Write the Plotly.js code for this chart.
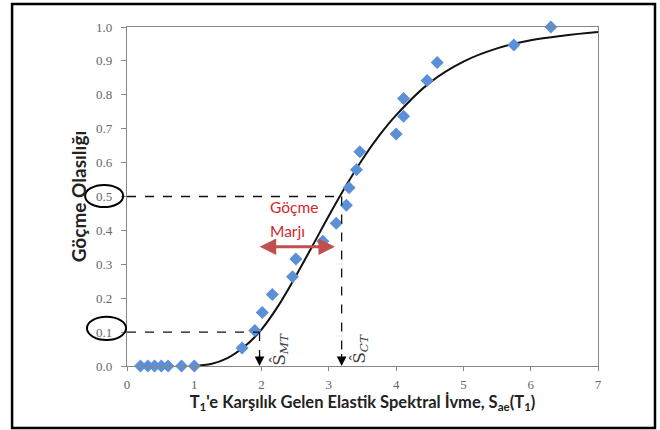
<!DOCTYPE html>
<html>
<head>
<meta charset="utf-8">
<script src="https://cdn.plot.ly/plotly-3.0.1.min.js"></script>
<style>html,body{margin:0;padding:0;background:#fff;}#chart{width:660px;height:430px;}</style>
</head>
<body>
<div id="chart"></div>
<script>
// Observed collapse fractions (diamonds)
const pointX = [0.20, 0.31, 0.41, 0.51, 0.61, 0.81, 1.00, 1.71, 1.90, 2.01, 2.16, 2.46, 2.51, 2.91, 3.11, 3.26, 3.30, 3.41, 3.46, 4.00, 4.11, 4.11, 4.46, 4.61, 5.75, 6.30];
const pointY = [0, 0, 0, 0, 0, 0, 0, 0.053, 0.105, 0.158, 0.211, 0.263, 0.316, 0.368, 0.421, 0.474, 0.526, 0.579, 0.632, 0.684, 0.737, 0.789, 0.842, 0.895, 0.947, 1.0];
// Fitted fragility curve
const curveX = [1.0, 1.25, 1.5, 1.75, 2.0, 2.25, 2.5, 2.75, 3.0, 3.25, 3.5, 3.75, 4.0, 4.5, 5.0, 5.5, 6.0, 6.5, 7.0];
const curveY = [0.001, 0.006, 0.024, 0.058, 0.108, 0.178, 0.262, 0.352, 0.443, 0.530, 0.610, 0.680, 0.740, 0.836, 0.898, 0.937, 0.961, 0.975, 0.985];
// Reference values
const sMT = 1.97, pMT = 0.1;
const sCT = 3.19, pCT = 0.5;
const marginFrom = 1.95, marginTo = 3.09, marginLevel = 0.352;
const xTicks = [0, 1, 2, 3, 4, 5, 6, 7];
const yTicks = [0, 0.1, 0.2, 0.3, 0.4, 0.5, 0.6, 0.7, 0.8, 0.9, 1.0];

const traces = [
  {x: curveX, y: curveY, type: 'scatter', mode: 'lines',
   line: {color: '#111111', width: 2, shape: 'spline', smoothing: 1.0}, hoverinfo: 'skip'},
  {x: pointX, y: pointY, type: 'scatter', mode: 'markers', cliponaxis: false,
   marker: {symbol: 'diamond', size: 10, color: '#5B8FD8', line: {width: 0}}}
];

const dash = {color: '#111111', width: 1.3, dash: 'dash'};
const tickFont = {size: 13, color: '#666666', family: '"Liberation Serif", serif'};
const layout = {
  width: 660, height: 430,
  margin: {l: 127, r: 62, t: 27, b: 64},
  paper_bgcolor: '#ffffff', plot_bgcolor: '#ffffff',
  showlegend: false,
  font: {family: 'Lato, "Open Sans", sans-serif', color: '#595959', size: 11},
  xaxis: {
    range: [0, 7], tickvals: xTicks, ticks: 'outside', ticklen: 4, tickcolor: '#888888',
    showgrid: false, zeroline: false, showline: true, linecolor: '#868686', linewidth: 1.2, mirror: true,
    tickfont: tickFont, ticklabelstandoff: 2,
    title: {text: "T<sub>1</sub>'e Karşılık Gelen Elastik Spektral İvme, S<sub>ae</sub>(T<sub>1</sub>)",
            font: {size: 16.5, color: '#222222', family: 'Lato, sans-serif', weight: 'bold'}, standoff: 5}
  },
  yaxis: {
    range: [0, 1], tickvals: yTicks, tickformat: '.1f', ticks: 'outside', ticklen: 5, tickcolor: '#888888',
    showgrid: false, zeroline: false, showline: true, linecolor: '#868686', linewidth: 1.2, mirror: true,
    tickfont: tickFont, ticklabelstandoff: 6,
    title: {text: 'Göçme Olasılığı', font: {size: 19, color: '#222222', family: 'Lato, sans-serif', weight: 'bold'}, standoff: 4}
  },
  shapes: [
    {type: 'line', xref: 'x', yref: 'y', x0: 0, x1: sCT, y0: pCT, y1: pCT, line: dash},
    {type: 'line', xref: 'x', yref: 'y', x0: sCT, x1: sCT, y0: pCT, y1: 0.02, line: dash},
    {type: 'line', xref: 'x', yref: 'y', x0: 0, x1: sMT, y0: pMT, y1: pMT, line: dash},
    {type: 'line', xref: 'x', yref: 'y', x0: sMT, x1: sMT, y0: pMT, y1: 0.02, line: dash},
    {type: 'circle', xref: 'paper', yref: 'paper', x0: -0.089, x1: -0.008, y0: 0.469, y1: 0.534,
     line: {color: '#000000', width: 2}},
    {type: 'circle', xref: 'paper', yref: 'paper', x0: -0.085, x1: -0.002, y0: 0.077, y1: 0.145,
     line: {color: '#000000', width: 2}},
    {type: 'rect', xref: 'paper', yref: 'paper', x0: -0.244, x1: 1.121, y0: -0.183, y1: 1.068,
     line: {color: '#000000', width: 2.5}}
  ],
  annotations: [
    {x: sMT, y: 0, ax: sMT, ay: 0.04, xref: 'x', yref: 'y', axref: 'x', ayref: 'y', text: '',
     showarrow: true, arrowhead: 2, arrowsize: 1.6, arrowwidth: 1.2, arrowcolor: '#000000'},
    {x: sCT, y: 0, ax: sCT, ay: 0.04, xref: 'x', yref: 'y', axref: 'x', ayref: 'y', text: '',
     showarrow: true, arrowhead: 2, arrowsize: 1.6, arrowwidth: 1.2, arrowcolor: '#000000'},
    {x: marginTo, y: marginLevel, ax: marginFrom, ay: marginLevel, xref: 'x', yref: 'y', axref: 'x', ayref: 'y',
     text: '', showarrow: true, arrowside: 'end+start', arrowhead: 2, arrowsize: 1.1, arrowwidth: 3, arrowcolor: '#C0504D'},
    {x: 2.48, y: 0.47, xref: 'x', yref: 'y', text: 'Göçme', showarrow: false,
     font: {size: 15.5, color: '#D0282C', family: 'Lato, sans-serif'}},
    {x: 2.39, y: 0.397, xref: 'x', yref: 'y', text: 'Marjı', showarrow: false,
     font: {size: 15.5, color: '#D0282C', family: 'Lato, sans-serif'}},
    {x: 2.27, y: 0.05, xref: 'x', yref: 'y', text: 'Ŝ<sub><i>MT</i></sub>', textangle: -90, showarrow: false,
     font: {size: 17, color: '#404040', family: '"DejaVu Serif", serif'}},
    {x: 3.46, y: 0.05, xref: 'x', yref: 'y', text: 'Ŝ<sub><i>CT</i></sub>', textangle: -90, showarrow: false,
     font: {size: 17, color: '#404040', family: '"DejaVu Serif", serif'}}
  ]
};

Plotly.newPlot('chart', traces, layout, {displayModeBar: false, staticPlot: true});
</script>
</body>
</html>
